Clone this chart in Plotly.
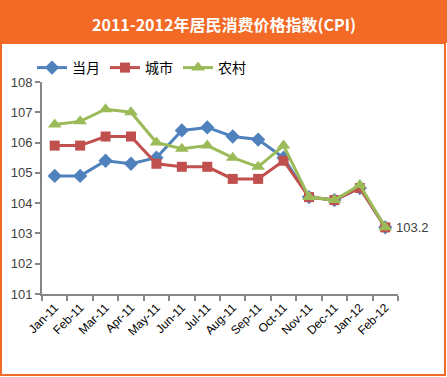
import plotly.graph_objects as go

months = ["Jan-11", "Feb-11", "Mar-11", "Apr-11", "May-11", "Jun-11", "Jul-11",
          "Aug-11", "Sep-11", "Oct-11", "Nov-11", "Dec-11", "Jan-12", "Feb-12"]
cpi_total = [104.9, 104.9, 105.4, 105.3, 105.5, 106.4, 106.5, 106.2, 106.1, 105.5, 104.2, 104.1, 104.5, 103.2]
cpi_urban = [105.9, 105.9, 106.2, 106.2, 105.3, 105.2, 105.2, 104.8, 104.8, 105.4, 104.2, 104.1, 104.5, 103.2]
cpi_rural = [106.6, 106.7, 107.1, 107.0, 106.0, 105.8, 105.9, 105.5, 105.2, 105.9, 104.2, 104.1, 104.6, 103.2]
series_names = ["当月", "城市", "农村"]
title_text = "2011-2012年居民消费价格指数(CPI)"
y_ticks = [101, 102, 103, 104, 105, 106, 107, 108]

W, H = 447, 377
L, R, T, B = 42, 49, 82, 83
pw, ph = W - L - R, H - T - B

def px_x(p):
    return (p - L) / pw

def px_y(p):
    return (H - B - p) / ph

orange = "#F26A25"
fig = go.Figure()
fig.add_trace(go.Scatter(x=months, y=cpi_total, name=series_names[0], mode="lines+markers",
                         line=dict(color="#4F81BD", width=3),
                         marker=dict(symbol="diamond", size=11, color="#4F81BD")))
fig.add_trace(go.Scatter(x=months, y=cpi_urban, name=series_names[1], mode="lines+markers",
                         line=dict(color="#C0504D", width=3),
                         marker=dict(symbol="square", size=10, color="#C0504D")))
fig.add_trace(go.Scatter(x=months, y=cpi_rural, name=series_names[2], mode="lines+markers",
                         line=dict(color="#9BBB59", width=3),
                         marker=dict(symbol="triangle-up", size=12, color="#9BBB59")))

fig.add_annotation(x=months[-1], y=cpi_total[-1], text=f"{cpi_total[-1]:.1f}", showarrow=False,
                   xanchor="left", xshift=9, font=dict(size=13, color="#404040", family="Liberation Sans"))

fig.add_annotation(x=px_x(W / 2), xref="paper", y=px_y(24), yref="paper", text="<b>" + title_text + "</b>",
                   showarrow=False, xanchor="center",
                   font=dict(size=16, color="white", family="Noto Sans CJK SC"), yanchor="middle")

fig.update_layout(
    width=W, height=H,
    margin=dict(l=L, r=R, t=T, b=B),
    paper_bgcolor="white", plot_bgcolor="white",
    showlegend=True,
    legend=dict(orientation="h", x=px_x(32), xanchor="left", y=px_y(68), yanchor="middle",
                font=dict(size=14, color="black", family="Noto Sans CJK SC"),
                itemwidth=30, tracegroupgap=0, bgcolor="rgba(0,0,0,0)"),
    xaxis=dict(type="category", range=[-0.5, len(months) - 0.5], showline=True, linecolor="#868686", linewidth=2,
               ticks="outside", tickson="boundaries", ticklen=5, tickcolor="#868686", tickwidth=2,
               tickangle=-45, tickfont=dict(size=12, color="black", family="Liberation Sans"),
               showgrid=False, zeroline=False),
    yaxis=dict(range=[101, 108], tickvals=y_ticks, showline=True, linecolor="#868686", linewidth=2,
               ticks="outside", ticklen=5, tickcolor="#868686", tickwidth=2,
               tickfont=dict(size=13, color="#404040", family="Liberation Sans"),
               showgrid=False, zeroline=False),
    shapes=[
        dict(type="rect", xref="paper", yref="paper", x0=px_x(0), x1=px_x(W), y0=px_y(43), y1=px_y(0),
             fillcolor=orange, line=dict(width=0), layer="below"),
        dict(type="rect", xref="paper", yref="paper", x0=px_x(1), x1=px_x(445), y0=px_y(375), y1=px_y(43),
             fillcolor="rgba(0,0,0,0)", line=dict(color=orange, width=2)),
    ],
)

fig.write_html("out.html", config={"displayModeBar": False},
               post_script="document.body.style.margin='0';document.body.style.overflow='hidden';")
